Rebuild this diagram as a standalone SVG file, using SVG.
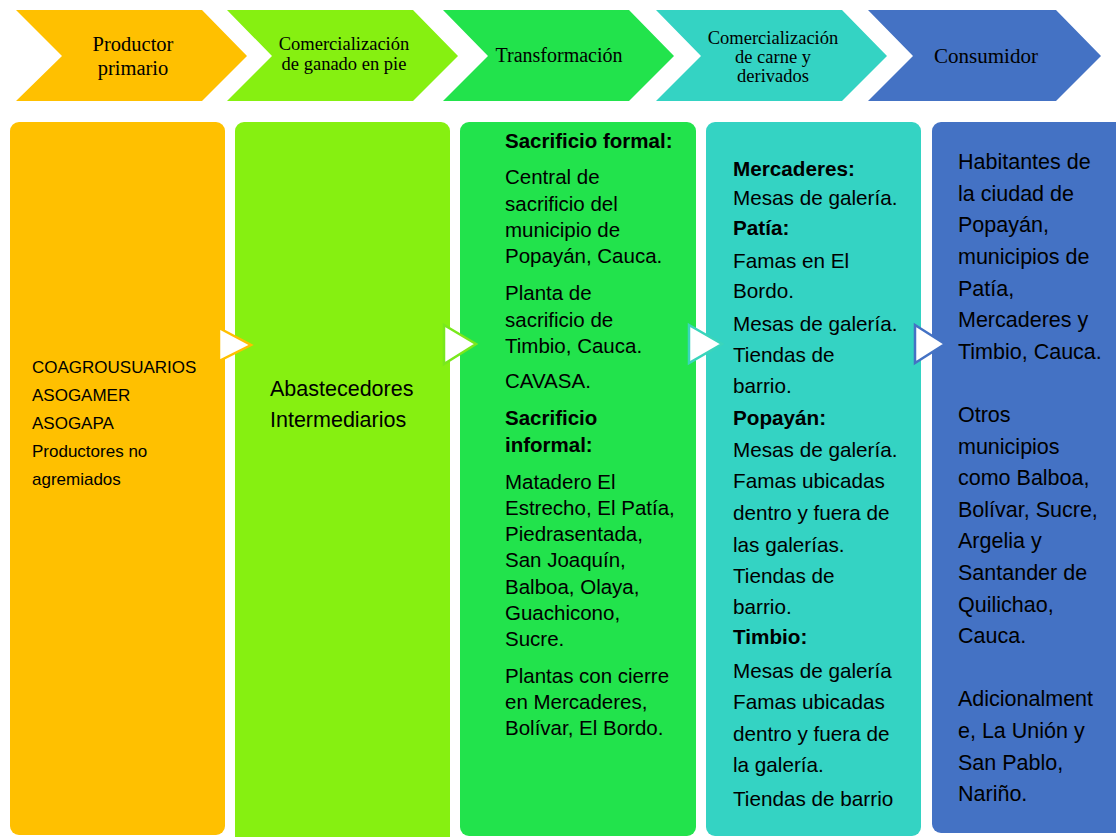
<svg xmlns="http://www.w3.org/2000/svg" width="1116" height="837" viewBox="0 0 1116 837">
<style>
.hd{font-family:"Liberation Serif","Times New Roman",serif;fill:#000;text-anchor:middle}
.bd{font-family:"Liberation Sans",Arial,sans-serif;fill:#000}
.b{font-weight:bold}
.arr{fill:#fff;stroke-width:2.5;stroke-linejoin:miter}
</style>
<rect width="1116" height="837" fill="#fff"/>
<g id="chevron-productor">
<polygon points="16,10 202,10 247,56 202,101 16,101 62,56" fill="#FFC000"/>
<text class="hd" font-size="20.5"><tspan x="133" y="51">Productor</tspan><tspan x="133" y="75">primario</tspan></text>
</g>
<g id="chevron-comercializacion-ganado">
<polygon points="227,10 413,10 458,56 413,101 227,101 272,56" fill="#86F011"/>
<text class="hd" font-size="18.5"><tspan x="344" y="50">Comercialización</tspan><tspan x="344" y="70">de ganado en pie</tspan></text>
</g>
<g id="chevron-transformacion">
<polygon points="443,10 629,10 674,56 629,101 443,101 488,56" fill="#22E34C"/>
<text class="hd" font-size="20" x="559" y="62">Transformación</text>
</g>
<g id="chevron-comercializacion-carne">
<polygon points="656,10 842,10 887,56 842,101 656,101 701,56" fill="#34D3C3"/>
<text class="hd" font-size="18.5"><tspan x="773" y="44">Comercialización</tspan><tspan x="773" y="63">de carne y</tspan><tspan x="773" y="82">derivados</tspan></text>
</g>
<g id="chevron-consumidor">
<polygon points="868,10 1056,10 1101,56 1056,101 868,101 913,56" fill="#4472C4"/>
<text class="hd" font-size="21" x="986" y="63">Consumidor</text>
</g>

<g id="box-productor">
<rect x="10" y="122" width="215" height="713" rx="9" fill="#FFC000"/>
<text class="bd" font-size="17"><tspan x="32" y="373">COAGROUSUARIOS</tspan><tspan x="32" y="401">ASOGAMER</tspan><tspan x="32" y="429">ASOGAPA</tspan><tspan x="32" y="457">Productores no</tspan><tspan x="32" y="485">agremiados</tspan></text>
</g>
<g id="box-comercializacion-ganado">
<rect x="235" y="122" width="215" height="730" rx="9" fill="#86F011"/>
<text class="bd" font-size="21.5"><tspan x="270" y="396">Abastecedores</tspan><tspan x="270" y="427">Intermediarios</tspan></text>
</g>
<g id="box-transformacion">
<rect x="460" y="122" width="236" height="714" rx="9" fill="#22E34C"/>
<text class="bd" font-size="20.5">
<tspan x="505" y="148" class="b">Sacrificio formal:</tspan>
<tspan x="505" y="184">Central de</tspan>
<tspan x="505" y="211">sacrificio del</tspan>
<tspan x="505" y="237">municipio de</tspan>
<tspan x="505" y="263">Popayán, Cauca.</tspan>
<tspan x="505" y="300">Planta de</tspan>
<tspan x="505" y="327">sacrificio de</tspan>
<tspan x="505" y="353">Timbio, Cauca.</tspan>
<tspan x="505" y="388">CAVASA.</tspan>
<tspan x="505" y="425" class="b">Sacrificio</tspan>
<tspan x="505" y="452" class="b">informal:</tspan>
<tspan x="505" y="489">Matadero El</tspan>
<tspan x="505" y="515">Estrecho, El Patía,</tspan>
<tspan x="505" y="541">Piedrasentada,</tspan>
<tspan x="505" y="567">San Joaquín,</tspan>
<tspan x="505" y="594">Balboa, Olaya,</tspan>
<tspan x="505" y="620">Guachicono,</tspan>
<tspan x="505" y="646">Sucre.</tspan>
<tspan x="505" y="683">Plantas con cierre</tspan>
<tspan x="505" y="709">en Mercaderes,</tspan>
<tspan x="505" y="735">Bolívar, El Bordo.</tspan>
</text>
</g>
<g id="box-comercializacion-carne">
<rect x="706" y="122" width="215" height="714" rx="9" fill="#34D3C3"/>
<text class="bd" font-size="20.7">
<tspan x="733" y="176" class="b">Mercaderes:</tspan>
<tspan x="733" y="205">Mesas de galería.</tspan>
<tspan x="733" y="235" class="b">Patía:</tspan>
<tspan x="733" y="268">Famas en El</tspan>
<tspan x="733" y="298">Bordo.</tspan>
<tspan x="733" y="331">Mesas de galería.</tspan>
<tspan x="733" y="362">Tiendas de</tspan>
<tspan x="733" y="393">barrio.</tspan>
<tspan x="733" y="425" class="b">Popayán:</tspan>
<tspan x="733" y="457">Mesas de galería.</tspan>
<tspan x="733" y="488">Famas ubicadas</tspan>
<tspan x="733" y="520">dentro y fuera de</tspan>
<tspan x="733" y="552">las galerías.</tspan>
<tspan x="733" y="583">Tiendas de</tspan>
<tspan x="733" y="614">barrio.</tspan>
<tspan x="733" y="644" class="b">Timbio:</tspan>
<tspan x="733" y="678">Mesas de galería</tspan>
<tspan x="733" y="709">Famas ubicadas</tspan>
<tspan x="733" y="741">dentro y fuera de</tspan>
<tspan x="733" y="772">la galería.</tspan>
<tspan x="733" y="806">Tiendas de barrio</tspan>
</text>
</g>
<g id="box-consumidor">
<rect x="932" y="122" width="200" height="711" rx="9" fill="#4472C4"/>
<text class="bd" font-size="21.5">
<tspan x="958" y="169">Habitantes de</tspan>
<tspan x="958" y="201">la ciudad de</tspan>
<tspan x="958" y="232">Popayán,</tspan>
<tspan x="958" y="264">municipios de</tspan>
<tspan x="958" y="296">Patía,</tspan>
<tspan x="958" y="327">Mercaderes y</tspan>
<tspan x="958" y="359">Timbio, Cauca.</tspan>
<tspan x="958" y="422">Otros</tspan>
<tspan x="958" y="454">municipios</tspan>
<tspan x="958" y="485">como Balboa,</tspan>
<tspan x="958" y="517">Bolívar, Sucre,</tspan>
<tspan x="958" y="548">Argelia y</tspan>
<tspan x="958" y="580">Santander de</tspan>
<tspan x="958" y="612">Quilichao,</tspan>
<tspan x="958" y="643">Cauca.</tspan>
<tspan x="958" y="706">Adicionalment</tspan>
<tspan x="958" y="738">e, La Unión y</tspan>
<tspan x="958" y="770">San Pablo,</tspan>
<tspan x="958" y="801">Nariño.</tspan>
</text>
</g>

<g id="connectors">
<polygon class="arr" points="219,328 251,345 219,361" stroke="#FFC000"/>
<polygon class="arr" points="444,325 476,344 444,364" stroke="#79E81C"/>
<polygon class="arr" points="689,325 722,344 689,363" stroke="#3AD5BC"/>
<polygon class="arr" points="915,325 945,344 915,363" stroke="#4472C4"/>
</g>
</svg>
